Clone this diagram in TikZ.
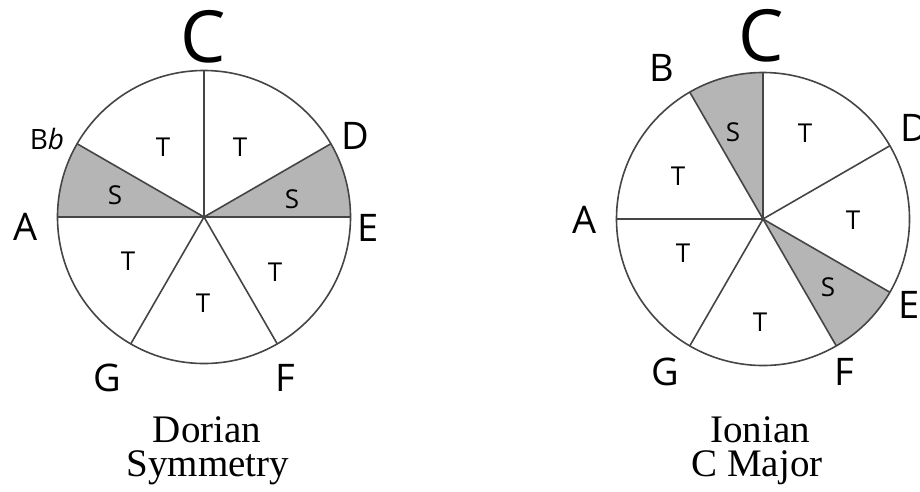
\documentclass[tikz,border=0pt]{standalone}
\usepackage{fontspec}
\setmainfont{Liberation Serif}
\newfontfamily\labfont{Open Sans}
\definecolor{linegray}{HTML}{454545}
\definecolor{shadegray}{HTML}{B5B5B5}
\begin{document}
\begin{tikzpicture}[x=1pt,y=-1pt,
  ln/.style={draw=linegray, line width=1.6pt},
  shade/.style={fill=shadegray},
  bigl/.style={font=\labfont\fontsize{72}{72}\selectfont, inner sep=0pt},
  note/.style={font=\labfont\fontsize{38}{38}\selectfont, inner sep=0pt},
  flat/.style={font=\labfont\fontsize{28}{28}\selectfont, inner sep=0pt},
  stepl/.style={font=\labfont\fontsize{26}{26}\selectfont, inner sep=0pt},
  capt/.style={font=\fontsize{39}{39}\selectfont, inner sep=0pt, anchor=base}]
\useasboundingbox (0,0) rectangle (920,491);
\fill[white] (0,0) rectangle (920,491);

% ---------- left circle: Dorian ----------
\begin{scope}[shift={(204,217)},yscale=-1]
  \coordinate (LO) at (0,0);
  \fill[shade] (0,0) -- (0:146.5) arc[start angle=0,end angle=30,radius=146.5] -- cycle;
  \fill[shade] (0,0) -- (150:146.5) arc[start angle=150,end angle=180,radius=146.5] -- cycle;
  \coordinate (LC) at (90:146.5);
  \coordinate (LD) at (30:146.5);
  \coordinate (LE) at (0:146.5);
  \coordinate (LF) at (-60:146.5);
  \coordinate (LG) at (-120:146.5);
  \coordinate (LA) at (180:146.5);
  \coordinate (LB) at (150:146.5);
  \draw[ln] (LO) -- (LC);
  \draw[ln] (LO) -- (LD);
  \draw[ln] (LA) -- (LE);
  \draw[ln] (LO) -- (LF);
  \draw[ln] (LO) -- (LG);
  \draw[ln] (LO) -- (LB);
  \draw[ln] (LO) circle[radius=146.5];
\end{scope}
\node[stepl] (l1) at (163,147) {T};
\node[stepl] (l2) at (240,147) {T};
\node[stepl] (l3) at (115,195) {S};
\node[stepl] (l4) at (292,199) {S};
\node[stepl] (l5) at (128,261) {T};
\node[stepl] (l6) at (275,272) {T};
\node[stepl] (l7) at (203,303) {T};
\node[bigl] (nLC) at (203,37) {C};
\node[note] (nLD) at (355,136) {D};
\node[note] (nLE) at (368,228) {E};
\node[note] (nLF) at (285,378) {F};
\node[note] (nLG) at (107,378) {G};
\node[note] (nLA) at (26,227) {A};
\node[flat, anchor=base] (nLB) at (47,149) {B\textit{b}};
\node[capt] (cl1) at (207,442) {Dorian};
\node[capt] (cl2) at (208,476.5) {Symmetry};

% ---------- right circle: Ionian ----------
\begin{scope}[shift={(763,219)},yscale=-1]
  \coordinate (RO) at (0,0);
  \fill[shade] (0,0) -- (-60:146.5) arc[start angle=-60,end angle=-30,radius=146.5] -- cycle;
  \fill[shade] (0,0) -- (90:146.5) arc[start angle=90,end angle=120,radius=146.5] -- cycle;
  \coordinate (RC) at (90:146.5);
  \coordinate (RD) at (30:146.5);
  \coordinate (RE) at (-30:146.5);
  \coordinate (RF) at (-60:146.5);
  \coordinate (RG) at (-120:146.5);
  \coordinate (RA) at (180:146.5);
  \coordinate (RB) at (120:146.5);
  \draw[ln] (RO) -- (RC);
  \draw[ln] (RO) -- (RD);
  \draw[ln] (RO) -- (RE);
  \draw[ln] (RO) -- (RF);
  \draw[ln] (RO) -- (RG);
  \draw[ln] (RO) -- (RA);
  \draw[ln] (RO) -- (RB);
  \draw[ln] (RO) circle[radius=146.5];
\end{scope}
\node[stepl] (r1) at (805,133) {T};
\node[stepl] (r2) at (733,132) {S};
\node[stepl] (r3) at (678,176) {T};
\node[stepl] (r4) at (853,220) {T};
\node[stepl] (r5) at (683,253) {T};
\node[stepl] (r6) at (828,287) {S};
\node[stepl] (r7) at (760,322) {T};
\node[bigl] (nRC) at (761,36) {C};
\node[note] (nRB) at (662,68) {B};
\node[note] (nRD) at (914,128) {D};
\node[note] (nRE) at (909,305) {E};
\node[note] (nRF) at (844,372) {F};
\node[note] (nRG) at (665,372) {G};
\node[note] (nRA) at (585,220) {A};
\node[capt] (cr1) at (760,442) {Ionian};
\node[capt] (cr2) at (757,476.5) {C Major};
\end{tikzpicture}
\end{document}
